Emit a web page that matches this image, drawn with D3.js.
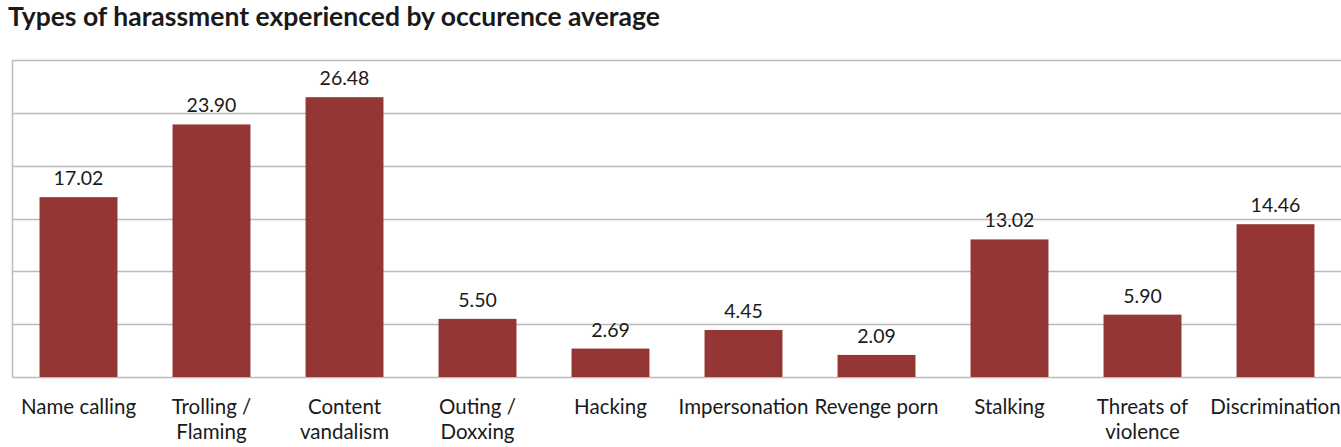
<!DOCTYPE html>
<html><head><meta charset="utf-8">
<script src="https://cdn.jsdelivr.net/npm/d3@7"></script>
<style>body{margin:0;background:#fff}svg{display:block}text{font-family:Lato,"Open Sans",sans-serif;fill:#1a1a1a}</style>
</head><body><svg id="c" width="1341" height="447"></svg>
<script>
const categories = ["Name calling","Trolling /\nFlaming","Content\nvandalism","Outing /\nDoxxing","Hacking","Impersonation","Revenge porn","Stalking","Threats of\nviolence","Discrimination"];
const values = [17.02,23.90,26.48,5.50,2.69,4.45,2.09,13.02,5.90,14.46];
const yTicks = [0,5,10,15,20,25,30];
const title = "Types of harassment experienced by occurence average";

const svg = d3.select("#c");
const m = {left:12, right:-1, top:60, bottom:70};
const W = 1341, H = 447;
const x = d3.scaleBand().domain(categories).range([m.left, W - m.right]).paddingInner(0.414).paddingOuter(0.207);
const y = d3.scaleLinear().domain([0,30]).range([H - m.bottom, m.top]);

svg.append("text").attr("x",8).attr("y",26).attr("font-size",26.5).attr("font-weight","bold").text(title);

svg.append("g").selectAll("line").data(yTicks).join("line")
  .attr("x1",m.left).attr("x2",W).attr("y1",d=>Math.round(y(d))+0.5).attr("y2",d=>Math.round(y(d))+0.5)
  .attr("stroke","#bcbcbc").attr("stroke-width",1.5);
svg.append("line").attr("x1",m.left+0.5).attr("x2",m.left+0.5).attr("y1",y(30)).attr("y2",y(0)).attr("stroke","#bcbcbc").attr("stroke-width",1.5);

svg.append("g").selectAll("rect").data(values).join("rect")
  .attr("x",(d,i)=>x(categories[i])).attr("width",x.bandwidth())
  .attr("y",d=>y(d)).attr("height",d=>y(0)-y(d)).attr("fill","#943634");

svg.append("g").selectAll("text").data(values).join("text")
  .attr("x",(d,i)=>x(categories[i])+x.bandwidth()/2).attr("y",d=>y(d)-12)
  .attr("text-anchor","middle").attr("font-size",19.5).text(d=>d.toFixed(2));

const lab = svg.append("g").selectAll("text").data(categories).join("text")
  .attr("x",d=>x(d)+x.bandwidth()/2).attr("y",414).attr("text-anchor","middle").attr("font-size",20.5);
lab.each(function(d){
  const t=d3.select(this);
  d.split("\n").forEach((s,i)=>t.append("tspan").attr("x",x(d)+x.bandwidth()/2).attr("dy",i?25:0).text(s));
});
</script></body></html>
